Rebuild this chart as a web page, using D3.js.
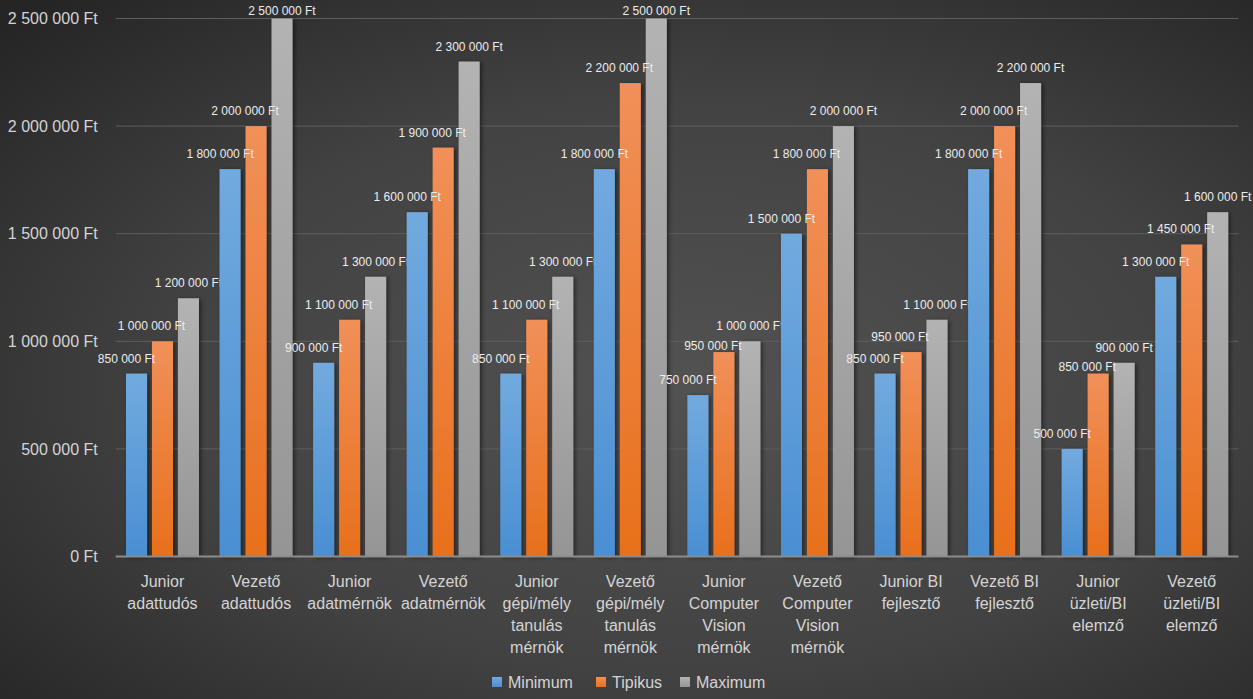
<!DOCTYPE html>
<html>
<head>
<meta charset="utf-8">
<script src="https://cdn.jsdelivr.net/npm/d3@7"></script>
<style>
  html, body { margin: 0; padding: 0; background: #333; }
  svg { display: block; }
</style>
</head>
<body>
<svg id="chart" width="1253" height="699"></svg>
<script>
const categories = [
  "Junior adattudós", "Vezető adattudós", "Junior adatmérnök", "Vezető adatmérnök",
  "Junior gépi/mély tanulás mérnök", "Vezető gépi/mély tanulás mérnök",
  "Junior Computer Vision mérnök", "Vezető Computer Vision mérnök",
  "Junior BI fejlesztő", "Vezető BI fejlesztő", "Junior üzleti/BI elemző", "Vezető üzleti/BI elemző"
];
const seriesNames = ["Minimum", "Tipikus", "Maximum"];
const minimum = [850000, 1800000, 900000, 1600000, 850000, 1800000, 750000, 1500000, 850000, 1800000, 500000, 1300000];
const tipikus = [1000000, 2000000, 1100000, 1900000, 1100000, 2200000, 950000, 1800000, 950000, 2000000, 850000, 1450000];
const maximum = [1200000, 2500000, 1300000, 2300000, 1300000, 2500000, 1000000, 2000000, 1100000, 2200000, 900000, 1600000];
const yTicks = [0, 500000, 1000000, 1500000, 2000000, 2500000];
const seriesValues = [minimum, tipikus, maximum];

const W = 1253, H = 699;
const margin = { left: 115.7, right: W - 1238.5, top: 18.5, bottom: H - 556.5 };
const colors = [
  { top: "#72aade", bot: "#4a8fd3" },
  { top: "#f19059", bot: "#e8701c" },
  { top: "#b3b3b3", bot: "#959595" }
];
const labelShift = [-10, -11, 0];

const fmt = v => d3.format(",")(v).replace(/,/g, " ") + " Ft";

const svg = d3.select("#chart");
const defs = svg.append("defs");

const bg = defs.append("radialGradient").attr("id", "bg")
  .attr("cx", "0.55").attr("cy", "0.55").attr("r", "0.75");
bg.append("stop").attr("offset", "0").attr("stop-color", "#525252");
bg.append("stop").attr("offset", "0.55").attr("stop-color", "#424242");
bg.append("stop").attr("offset", "1").attr("stop-color", "#252525");

colors.forEach((c, i) => {
  const g = defs.append("linearGradient").attr("id", "g" + i)
    .attr("x1", 0).attr("y1", 0).attr("x2", 0).attr("y2", 1);
  g.append("stop").attr("offset", "0").attr("stop-color", c.top);
  g.append("stop").attr("offset", "1").attr("stop-color", c.bot);
});
const f = defs.append("filter").attr("id", "shadow")
  .attr("x", "-30%").attr("y", "-10%").attr("width", "160%").attr("height", "120%");
f.append("feDropShadow").attr("dx", 2).attr("dy", 1).attr("stdDeviation", 2)
  .attr("flood-color", "#000").attr("flood-opacity", 0.5);

svg.append("rect").attr("width", W).attr("height", H).attr("fill", "url(#bg)");

const x0 = d3.scaleBand().domain(categories)
  .range([margin.left, W - margin.right]).paddingInner(0).paddingOuter(0);
const bw = x0.bandwidth();
const x1 = d3.scaleBand().domain(seriesNames)
  .range([bw * 0.11, bw * 0.89]).paddingInner(0.19).paddingOuter(0);
const y = d3.scaleLinear().domain([0, 2500000]).range([H - margin.bottom, margin.top]);

// gridlines
const grid = svg.append("g");
grid.selectAll("line").data(yTicks.filter(d => d > 0)).join("line")
  .attr("x1", margin.left).attr("x2", W - margin.right)
  .attr("y1", d => y(d)).attr("y2", d => y(d))
  .attr("stroke", "#5e5e5e").attr("stroke-width", 1);

// y axis labels
const yAxis = d3.axisLeft(y).tickValues(yTicks).tickFormat(fmt).tickSize(0).tickPadding(18);
const yg = svg.append("g").attr("transform", `translate(${margin.left},0)`).call(yAxis);
yg.select(".domain").remove();
yg.selectAll("text").attr("fill", "#d4d4d4")
  .style("font-family", "'Liberation Sans', Arial, sans-serif").style("font-size", "16px");

// bars
const groups = svg.append("g").selectAll("g").data(categories).join("g")
  .attr("transform", d => `translate(${x0(d)},0)`);
seriesNames.forEach((s, si) => {
  groups.append("rect")
    .attr("x", x1(s))
    .attr("y", (d, i) => y(seriesValues[si][i]))
    .attr("width", x1.bandwidth())
    .attr("height", (d, i) => y(0) - y(seriesValues[si][i]))
    .attr("fill", `url(#g${si})`)
    .attr("filter", "url(#shadow)");
});

// zero axis line
svg.append("line").attr("x1", margin.left).attr("x2", W - margin.right)
  .attr("y1", y(0)).attr("y2", y(0)).attr("stroke", "#8c8c8c").attr("stroke-width", 2);

// data label positions with simple collision avoidance (push lower label down)
function labelY(i) {
  const ys = seriesValues.map(v => Math.max(15, y(v[i]) - 11));
  for (let si = seriesValues.length - 2; si >= 0; si--) {
    const above = ys[si + 1];
    if (ys[si] - above < 13) ys[si] = above + 19.5;
  }
  return ys;
}
const labelYs = categories.map((c, i) => labelY(i));

seriesNames.forEach((s, si) => {
  groups.append("text")
    .attr("x", x1(s) + x1.bandwidth() / 2 + labelShift[si])
    .attr("y", (d, i) => labelYs[i][si])
    .attr("text-anchor", "middle")
    .attr("fill", "#ececec")
    .style("font-family", "'Liberation Sans', Arial, sans-serif")
    .style("font-size", "12px")
    .text((d, i) => fmt(seriesValues[si][i]));
});

// x axis category labels (wrapped)
const xg = svg.append("g").attr("transform", `translate(0,${y(0)})`)
  .call(d3.axisBottom(x0).tickSize(0).tickPadding(0));
xg.select(".domain").remove();
xg.selectAll("text").remove();
const measure = svg.append("text").style("font-family", "'Liberation Sans', Arial, sans-serif")
  .style("font-size", "16px").attr("visibility", "hidden");
function wrap(str, width) {
  const words = str.split(" ");
  const lines = [];
  let cur = "";
  words.forEach(w => {
    const t = cur ? cur + " " + w : w;
    measure.text(t);
    if (measure.node().getComputedTextLength() > width && cur) { lines.push(cur); cur = w; }
    else cur = t;
  });
  if (cur) lines.push(cur);
  return lines;
}
xg.selectAll(".tick").each(function (d) {
  const lines = wrap(d, bw - 2);
  const t = d3.select(this).append("text")
    .attr("fill", "#d4d4d4").attr("text-anchor", "middle")
    .style("font-family", "'Liberation Sans', Arial, sans-serif").style("font-size", "16px");
  lines.forEach((ln, k) => t.append("tspan").attr("x", 0).attr("y", 30 + k * 22).text(ln));
});
measure.remove();

// legend
const legendItems = [
  { name: seriesNames[0], x: 492 },
  { name: seriesNames[1], x: 596 },
  { name: seriesNames[2], x: 680 }
];
const lg = svg.append("g");
legendItems.forEach((it, i) => {
  lg.append("rect").attr("x", it.x).attr("y", 677).attr("width", 10).attr("height", 10)
    .attr("fill", `url(#g${i})`);
  lg.append("text").attr("x", it.x + 16).attr("y", 688)
    .attr("fill", "#d4d4d4")
    .style("font-family", "'Liberation Sans', Arial, sans-serif").style("font-size", "16px")
    .text(it.name);
});
</script>
</body>
</html>
